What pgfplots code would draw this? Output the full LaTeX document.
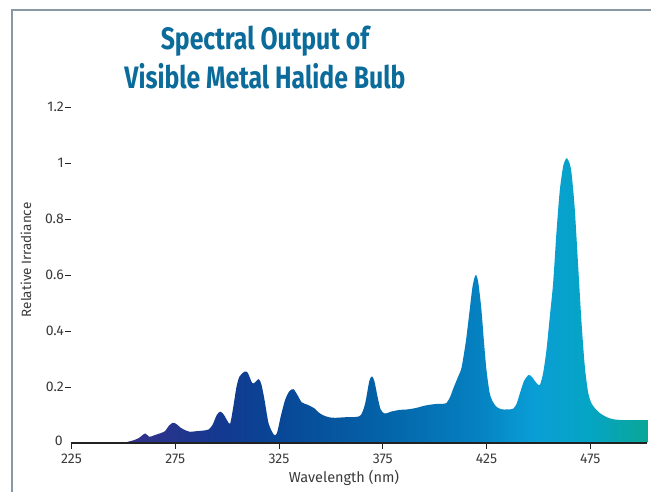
\documentclass[border=0pt]{standalone}
\usepackage{pgfplots}
\pgfplotsset{compat=1.18}
\usepackage{fontspec}
\setmainfont{Fira Sans}
\newfontfamily\titlefont[FakeStretch=0.8]{Fira Sans}
\definecolor{titleblue}{HTML}{0B6B9A}
\definecolor{labelgrey}{HTML}{3A3A3A}
\definecolor{framegrey}{HTML}{8A98A4}
\definecolor{axisblack}{HTML}{222222}
\definecolor{s0}{HTML}{35308A}
\definecolor{s1}{HTML}{123A90}
\definecolor{s2}{HTML}{084696}
\definecolor{s3}{HTML}{0463A8}
\definecolor{s4}{HTML}{0580C0}
\definecolor{s5}{HTML}{0A9ED6}
\definecolor{s6}{HTML}{05A5C4}
\definecolor{s7}{HTML}{0AA698}
\pgfdeclarehorizontalshading{spectrum}{100bp}{color(0bp)=(s0); color(25bp)=(s0); color(34.7bp)=(s1); color(39.6bp)=(s2); color(49.6bp)=(s3); color(58.5bp)=(s4); color(64.1bp)=(s5); color(69.5bp)=(s6); color(75bp)=(s7); color(100bp)=(s7)}
\begin{document}
\begin{tikzpicture}
\useasboundingbox (0,0) rectangle (651pt,492pt);
\draw[framegrey, line width=2.2pt] (12pt,0pt) -- (12pt,482pt) -- (651pt,482pt);
\node[titleblue, anchor=base, inner sep=0pt] at (265pt,442pt) {\titlefont\fontsize{31}{36}\selectfont\bfseries Spectral Output of};
\node[titleblue, anchor=base, inner sep=0pt] at (265pt,403pt) {\titlefont\fontsize{31}{36}\selectfont\bfseries Visible Metal Halide Bulb};
\begin{axis}[
  at={(71.5pt,49pt)}, anchor=south west,
  scale only axis, width=575.8pt, height=336pt,
  xmin=225, xmax=502.5, ymin=0, ymax=1.2,
  axis on top,
  axis x line*=bottom, axis y line*=left,
  x axis line style={axisblack, line width=2.6pt, -},
  y axis line style={draw=none},
  xtick={225,275,325,375,425,475},
  ytick={0.2,0.4,0.6,0.8,1,1.2},
  extra y ticks={0},
  extra y tick style={major tick length=0pt, yticklabel style={xshift=-7pt, yshift=2pt}},
  tick align=outside,
  major tick length=6pt,
  tick style={axisblack, line width=0.9pt},
  /pgf/number format/assume math mode=true,
  tick label style={font=\fontsize{14}{16}\selectfont, text=labelgrey},
  xticklabel style={inner sep=1pt, yshift=-4pt},
  yticklabel style={inner sep=1.5pt},
  xlabel={Wavelength (nm)},
  xlabel style={at={(axis description cs:0.4733,0)}, anchor=base, yshift=-39.7pt, inner sep=0pt, font=\fontsize{14.5}{17}\selectfont, text=labelgrey},
  ylabel={Relative Irradiance},
  ylabel style={at={(axis description cs:-0.079,0.545)}, anchor=center, inner sep=0pt, font=\fontsize{13.5}{16}\selectfont, text=labelgrey},
]
\addplot[draw=none, shading=spectrum, smooth, tension=0.45] coordinates {
(250.5,0) (252,0.004) (255,0.01) (257.5,0.018) (260.5,0.034) (262.5,0.022)
(265,0.028) (267.5,0.034) (270,0.042) (272,0.062) (273.8,0.072) (275.5,0.068)
(277.7,0.054) (280,0.045) (282,0.04) (285,0.042) (288,0.044) (291,0.048)
(293,0.065) (295,0.1) (296.8,0.112) (298.5,0.1) (300.2,0.078) (301.5,0.07)
(303,0.13) (304.5,0.2) (306,0.238) (308.5,0.255) (310,0.25) (312,0.215)
(313.2,0.215) (315.2,0.228) (316.5,0.21) (318,0.155) (320,0.07) (322.5,0.03)
(324,0.035) (326,0.1) (328,0.155) (330,0.185) (332,0.192) (334,0.17)
(336,0.145) (339,0.136) (342,0.124) (344,0.11) (346,0.1) (349,0.092)
(352,0.09) (357,0.092) (362,0.093) (364.5,0.1) (366.5,0.14) (368.5,0.22)
(369.8,0.238) (371,0.22) (372.5,0.165) (374,0.12) (376,0.105) (379,0.112)
(383,0.118) (387,0.12) (391,0.125) (395,0.133) (399,0.138) (402,0.14)
(405.5,0.142) (407.5,0.165) (409,0.195) (411.5,0.24) (413,0.27) (415,0.36)
(416.5,0.45) (418.3,0.56) (419.8,0.6) (421,0.575) (422.5,0.48) (423.8,0.36)
(425,0.26) (426.5,0.18) (428,0.148) (430,0.128) (432.5,0.12) (435,0.12)
(437.8,0.122) (439.5,0.14) (441,0.175) (443,0.22) (445.3,0.243) (447,0.235)
(449,0.215) (450.7,0.207) (452.3,0.25) (453.9,0.332) (455.5,0.45) (457.1,0.57)
(458.7,0.75) (460.3,0.9) (462,0.99) (463.6,1.017) (465,1.0) (466,0.963)
(467.5,0.84) (469.2,0.63) (470.8,0.43) (472.4,0.272) (474,0.18) (475.6,0.142)
(478,0.118) (480,0.105) (483,0.092) (486,0.085) (490,0.082) (496,0.082)
(502.5,0.082)
} \closedcycle;
\end{axis}
\end{tikzpicture}
\end{document}
